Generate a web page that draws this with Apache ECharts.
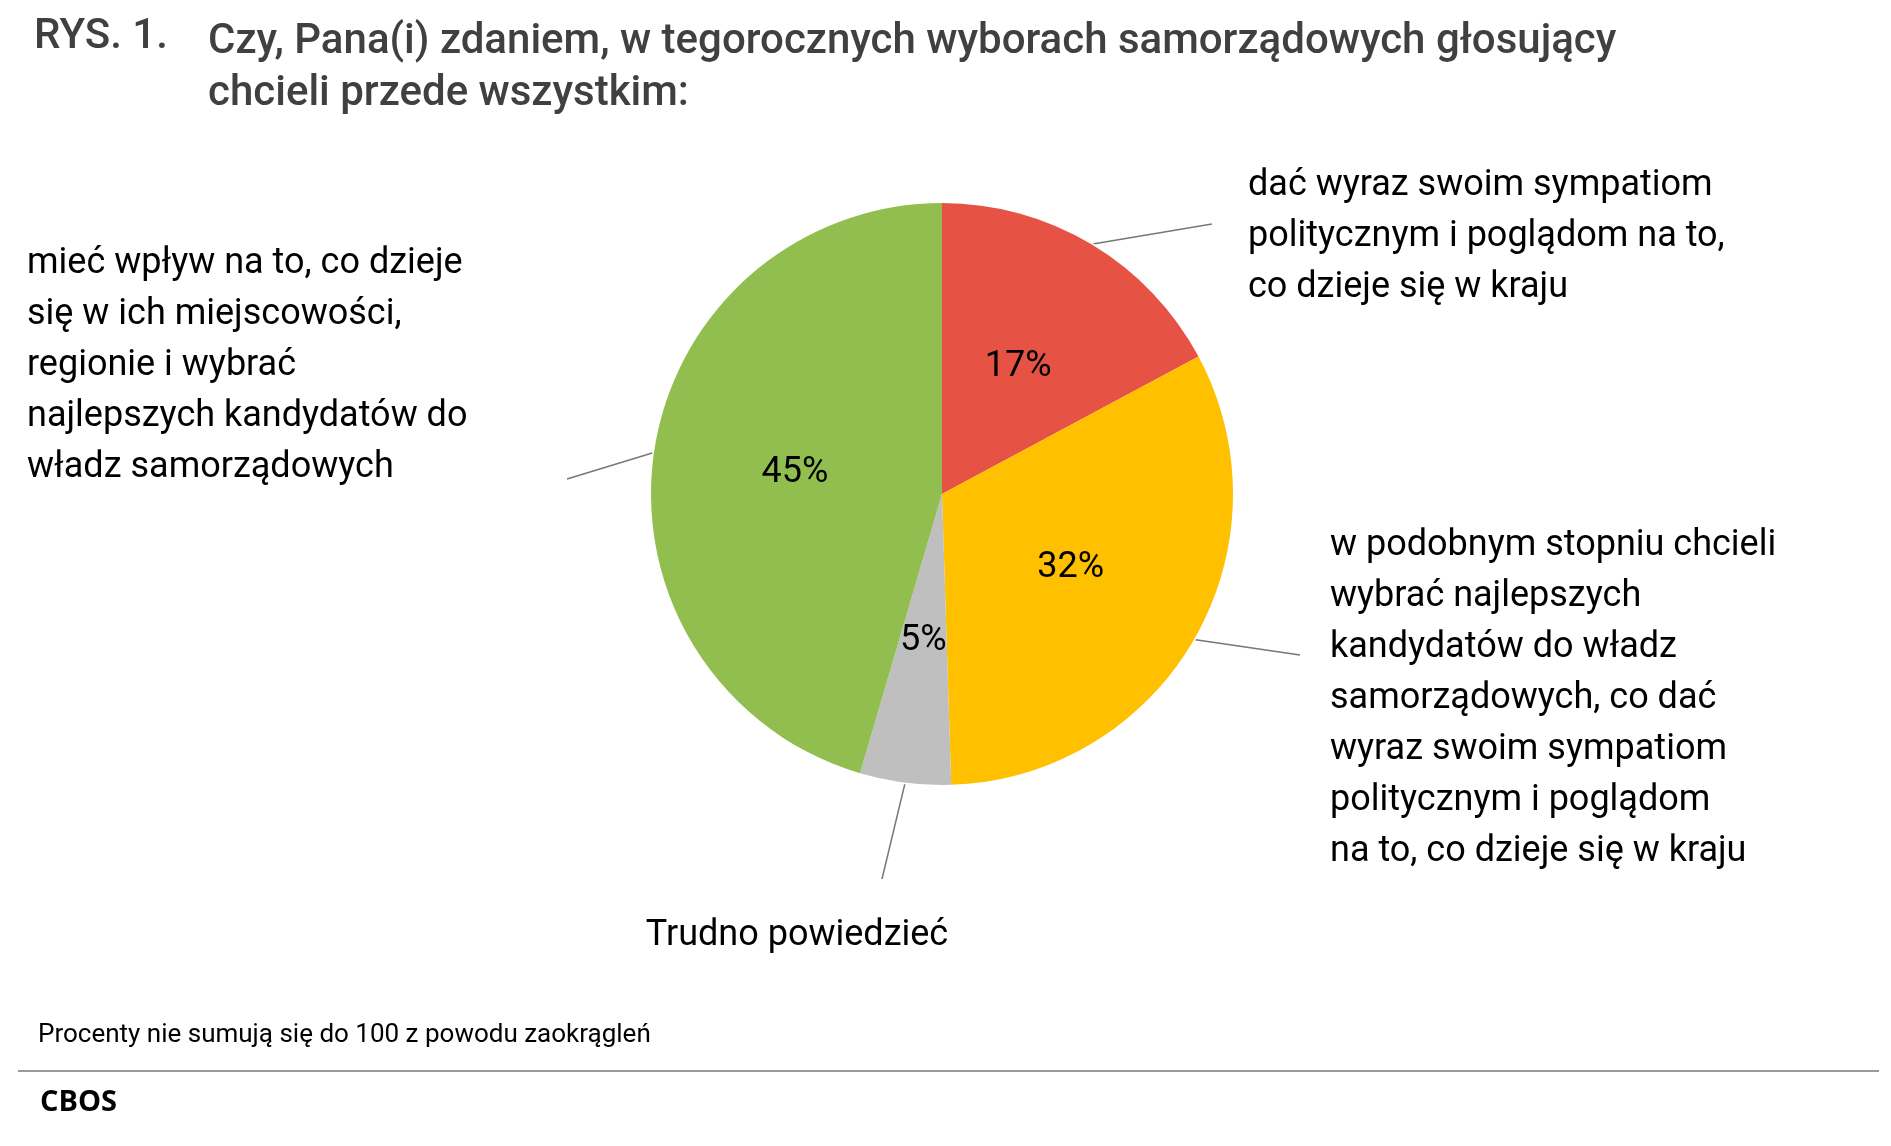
<!DOCTYPE html>
<html><head><meta charset="utf-8">
<script src="https://cdn.jsdelivr.net/npm/echarts@6/dist/echarts.min.js"></script>
<style>html,body{margin:0;background:#fff}#c{width:1891px;height:1146px}</style>
</head><body><div id="c"></div>
<script>
var names = [
  'dać wyraz swoim sympatiom\npolitycznym i poglądom na to,\nco dzieje się w kraju',
  'w podobnym stopniu chcieli\nwybrać najlepszych\nkandydatów do władz\nsamorządowych, co dać\nwyraz swoim sympatiom\npolitycznym i poglądom\nna to, co dzieje się w kraju',
  'Trudno powiedzieć',
  'mieć wpływ na to, co dzieje\nsię w ich miejscowości,\nregionie i wybrać\nnajlepszych kandydatów do\nwładz samorządowych'
];
var values = [17, 32, 5, 45];
var colors = ['#E65344', '#FFC000', '#BFBFBF', '#92BE4F'];

// where each outside label sits and where its leader line ends
var labelSpots = [
  {x: 1248, y: 160, align: 'left', end: [1212, 224]},
  {x: 1330, y: 520, align: 'left', end: [1300, 655]},
  {x: 797, y: 910, align: 'center', end: [882, 879]},
  {x: 27, y: 238, align: 'left', end: [567, 479]}
];

var data = names.map(function (n, i) {
  return {name: n, value: values[i], itemStyle: {color: colors[i]}};
});

var chart = echarts.init(document.getElementById('c'));
chart.setOption({
  animation: false,
  textStyle: {fontFamily: 'Roboto'},
  graphic: [
    {type: 'text', left: 34, top: 16, style: {text: 'RYS. 1.', font: '500 42px Roboto', fill: '#404040'}},
    {type: 'text', left: 208, top: 16, style: {text: 'Czy, Pana(i) zdaniem, w tegorocznych wyborach samorządowych głosujący\nchcieli przede wszystkim:', font: '500 42px Roboto', fill: '#404040', lineHeight: 52}},
    {type: 'text', left: 38, top: 1022, style: {text: 'Procenty nie sumują się do 100 z powodu zaokrągleń', font: '26px Roboto', fill: '#000'}},
    {type: 'line', shape: {x1: 18, y1: 1071, x2: 1879, y2: 1071}, style: {stroke: '#999', lineWidth: 2}},
    {type: 'text', left: 40, top: 1088, style: {text: 'CBOS', font: 'bold 29px "Open Sans"', fill: '#000'}}
  ],
  series: [
    {
      type: 'pie', center: [942, 494], radius: 291, startAngle: 90, clockwise: true,
      data: data, silent: true,
      itemStyle: {borderColor: '#fff', borderWidth: 3},
      label: {show: true, position: 'outside', formatter: '{b}', fontSize: 36, lineHeight: 51, color: '#000'},
      labelLine: {show: true, length: 20, length2: 10, lineStyle: {color: '#777', width: 1.5}},
      labelLayout: function (p) {
        var s = labelSpots[p.dataIndex];
        var a = p.labelLinePoints ? p.labelLinePoints[0] : s.end;
        return {x: s.x, y: s.y, align: s.align, verticalAlign: 'top',
          labelLinePoints: [a, s.end, s.end]};
      }
    },
    {
      type: 'pie', center: [942, 494], radius: 291, startAngle: 90, clockwise: true,
      data: data, silent: true,
      itemStyle: {color: 'transparent', borderWidth: 0},
      label: {show: true, position: 'inside', formatter: '{c}%', fontSize: 36, color: '#000'},
      labelLine: {show: false}
    }
  ]
});
</script></body></html>
